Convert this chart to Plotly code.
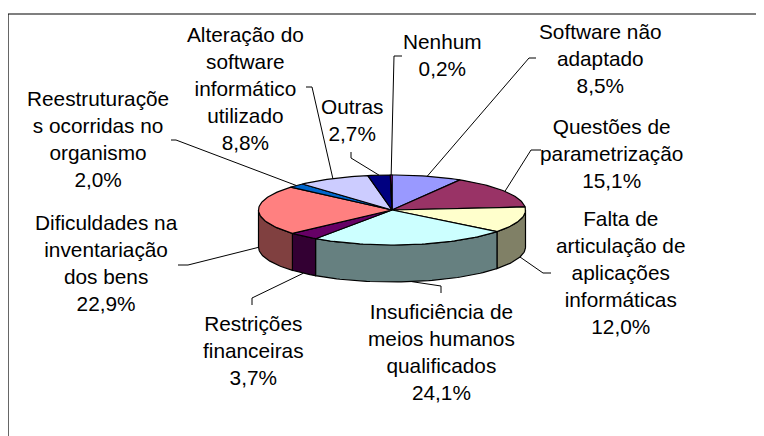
import math
import plotly.graph_objects as go

# ---- data ----
categories = ["Software não<br>adaptado", "Questões de<br>parametrização",
              "Falta de<br>articulação de<br>aplicações<br>informáticas",
              "Insuficiência de<br>meios humanos<br>qualificados",
              "Restrições<br>financeiras",
              "Dificuldades na<br>inventariação<br>dos bens",
              "Reestruturaçõe<br>s ocorridas no<br>organismo",
              "Alteração do<br>software<br>informático<br>utilizado",
              "Outras", "Nenhum"]
values = [8.5, 15.1, 12.0, 24.1, 3.7, 22.9, 2.0, 8.8, 2.7, 0.2]

# ---- style / layout ----
top_colors = ["#9999FF", "#993366", "#FFFFCC", "#CCFFFF", "#660066",
              "#FF8080", "#0066CC", "#CCCCFF", "#000080", "#FF00FF"]
side_colors = ["#4C4C80", "#4D1A33", "#808066", "#668080", "#330033",
               "#804040", "#003366", "#666680", "#000040", "#800080"]
label_pos = [(600, 58), (611, 153), (620, 272), (441, 352), (253, 350),
             (106, 263), (98, 139), (245, 88), (352, 120), (442, 55)]
leader_pts = [[(536, 58), (529, 58)], [(541, 150), (531, 150)],
              [(551, 273), (543, 273)], [(441, 293), (441, 286)],
              [(252, 305), (252, 298)], [(178, 265), (188, 265)],
              [(171, 140), (176, 140)], [(306, 87), (312, 87)],
              [(351, 152), (351, 158)], [(402, 56), (394, 56)]]

W, H = 764, 436
OFF = 8  # page body margin compensation
cx, cy, rx, ry, depth = 392, 210, 133.5, 35, 37


def pt(theta, dy=0.0):
    t = math.radians(theta)
    return cx + rx * math.sin(t), cy - ry * math.cos(t) + dy


def arc(a, b, dy=0.0, n=None):
    if n is None:
        n = max(2, int(abs(b - a) / 1.5) + 2)
    return [pt(a + (b - a) * i / (n - 1), dy) for i in range(n)]


total = sum(values)
starts, ends = [], []
acc = 0.0
for v in values:
    starts.append(acc / total * 360)
    acc += v
    ends.append(acc / total * 360)

fig = go.Figure()

# side walls (front half only)
for i in range(len(values)):
    a, b = max(starts[i], 90), min(ends[i], 270)
    if b <= a:
        continue
    top = arc(a, b)
    bot = arc(b, a, depth)
    pts = top + bot + [top[0]]
    fig.add_trace(go.Scatter(x=[p[0] for p in pts], y=[p[1] for p in pts],
                             mode="lines", fill="toself",
                             fillcolor=side_colors[i],
                             line=dict(color="black", width=1.2),
                             hoverinfo="skip", showlegend=False))

# top faces
for i in range(len(values)):
    pts = [(cx, cy)] + arc(starts[i], ends[i]) + [(cx, cy)]
    fig.add_trace(go.Scatter(x=[p[0] for p in pts], y=[p[1] for p in pts],
                             mode="lines", fill="toself",
                             fillcolor=top_colors[i],
                             line=dict(color="black", width=1.2),
                             hoverinfo="skip", showlegend=False))

# leader lines and labels
for i in range(len(values)):
    mid = (starts[i] + ends[i]) / 2
    front = 90 < mid < 270
    ex, ey = pt(mid, depth if front else 0)
    pts = leader_pts[i] + [(ex, ey)]
    fig.add_trace(go.Scatter(x=[p[0] for p in pts], y=[p[1] for p in pts],
                             mode="lines", line=dict(color="black", width=1),
                             hoverinfo="skip", showlegend=False))
    txt = categories[i] + "<br>" + f"{values[i]:.1f}".replace(".", ",") + "%"
    fig.add_annotation(x=label_pos[i][0], y=label_pos[i][1], text=txt,
                       showarrow=False, xanchor="center", yanchor="middle",
                       align="center",
                       font=dict(family="Liberation Sans, Arial, sans-serif",
                                 size=20.8, color="black"))

# chart frame
fig.add_shape(type="rect", x0=8, y0=14, x1=W + 20, y1=H + 20,
              line=dict(color="black", width=1.2), layer="below")

fig.update_layout(width=W, height=H, margin=dict(l=0, r=0, t=0, b=0),
                  paper_bgcolor="white", plot_bgcolor="white",
                  xaxis=dict(range=[OFF, W + OFF], visible=False, fixedrange=True),
                  yaxis=dict(range=[H + OFF, OFF], visible=False, fixedrange=True),
                  showlegend=False)

fig.write_html("out.html")
